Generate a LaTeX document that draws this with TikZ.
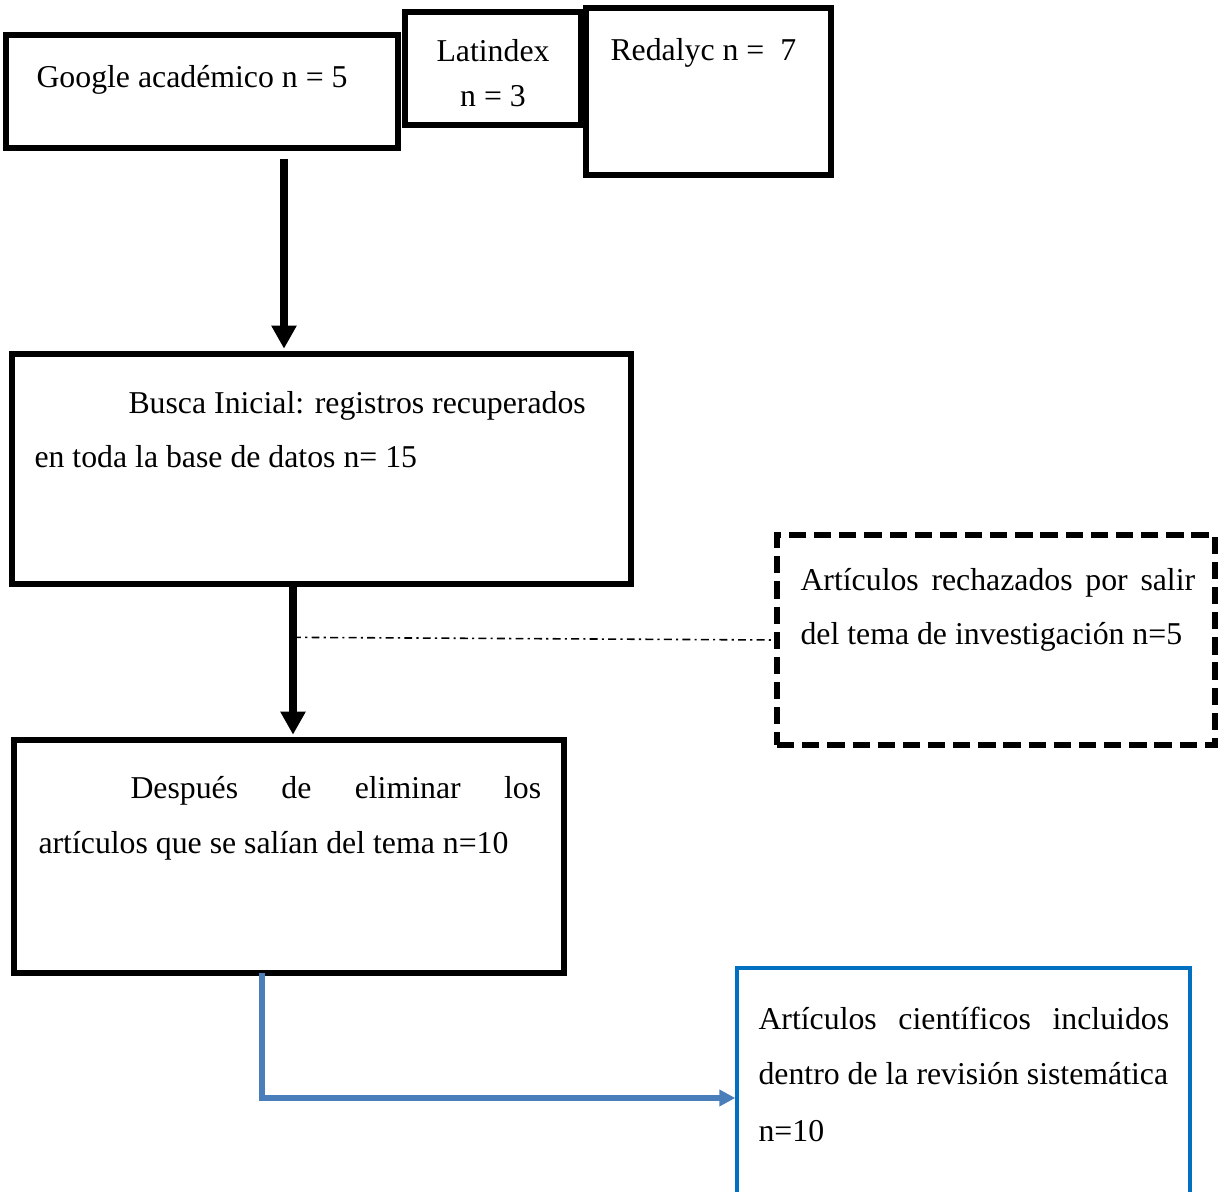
\documentclass[tikz,border=0pt]{standalone}
\usepackage{fontspec}
\setmainfont{Liberation Serif}
\usetikzlibrary{arrows.meta}

\tikzset{
  px/.style 2 args={minimum width={#1*0.3775pt}, minimum height={#2*0.3775pt}},
  frame/.style={draw, line width=2pt, inner sep=0pt},
  dashframe/.style={frame, dash pattern=on 6.5pt off 3pt},
  blueframe/.style={draw=bluebox, line width=1.3pt, inner sep=0pt},
  txt/.style={anchor=base west, inner sep=0pt, font=\fontsize{12}{20.4}\selectfont},
  ctxt/.style={txt, anchor=base},
  flow/.style={line width=3pt, -{Triangle[width=9pt,length=8.7pt]}},
  reject/.style={line width=0.6pt, dash pattern=on 3pt off 1.6pt on 0.8pt off 1.6pt},
  include/.style={draw=blueline, line width=2pt, -{Triangle[width=6pt,length=6pt]}}
}
\definecolor{bluebox}{HTML}{0070C0}
\definecolor{blueline}{HTML}{4A7EBB}

\begin{document}
\begin{tikzpicture}[x=0.3775pt, y=-0.3775pt]
\useasboundingbox (0,0) rectangle (1219,1192);
\clip (0,0) rectangle (1219,1192);
% sources
\node[frame, px={392}{113}] (google) at (202,91.5) {};
\node[frame, px={176}{113}] (latindex) at (493,68.5) {};
\node[frame, px={245}{167}] (redalyc) at (708.5,91.5) {};
\node[txt] (google-t) at (36,88) {Google académico n = 5};
\node[ctxt] (latindex-t1) at (493,62) {Latindex};
\node[ctxt] (latindex-t2) at (493,107) {n = 3};
\node[txt] (redalyc-t) at (610,61) {Redalyc n = \ 7};
% first search
\node[frame, px={619}{230}] (busca) at (321.5,469) {};
\node[txt] (busca-t1) at (128,414) {Busca Inicial: registros recuperados};
\node[txt] (busca-t2) at (34,468) {en toda la base de datos n= 15};
% rejected
\node[dashframe, px={438}{210}] (rechazo) at (996,640) {};
\node[txt] (rechazo-t1) at (800,591) {\makebox[149pt][s]{Artículos rechazados por salir}};
\node[txt] (rechazo-t2) at (800,645) {del tema de investigación n=5};
% after filtering
\node[frame, px={550}{233}] (despues) at (289,856.5) {};
\node[txt] (despues-t1) at (130,799) {\makebox[155pt][s]{Después de eliminar los}};
\node[txt] (despues-t2) at (38,854) {artículos que se salían del tema n=10};
% included
\node[blueframe, px={453}{260}] (incluidos) at (963.5,1098) {};
\node[txt] (incluidos-t1) at (758,1029) {\makebox[155pt][s]{Artículos científicos incluidos}};
\node[txt] (incluidos-t2) at (758,1085) {dentro de la revisión sistemática};
\node[txt] (incluidos-t3) at (758,1141) {n=10};
% connectors
\coordinate (c1) at (284,0);
\coordinate (c2) at (293,0);
\coordinate (c3) at (262,0);
\draw[flow] ([yshift=-3pt]google.south -| c1) -- ([yshift=1pt]busca.north -| c1);
\draw[flow] ([yshift=1.5pt]busca.south -| c2) -- ([yshift=1pt]despues.north -| c2);
\draw[reject] ([yshift=1pt]rechazo.west -| c2) -- (rechazo.west);
\draw[include] ([yshift=1pt]despues.south -| c3) |- (incluidos.west);
\end{tikzpicture}
\end{document}
